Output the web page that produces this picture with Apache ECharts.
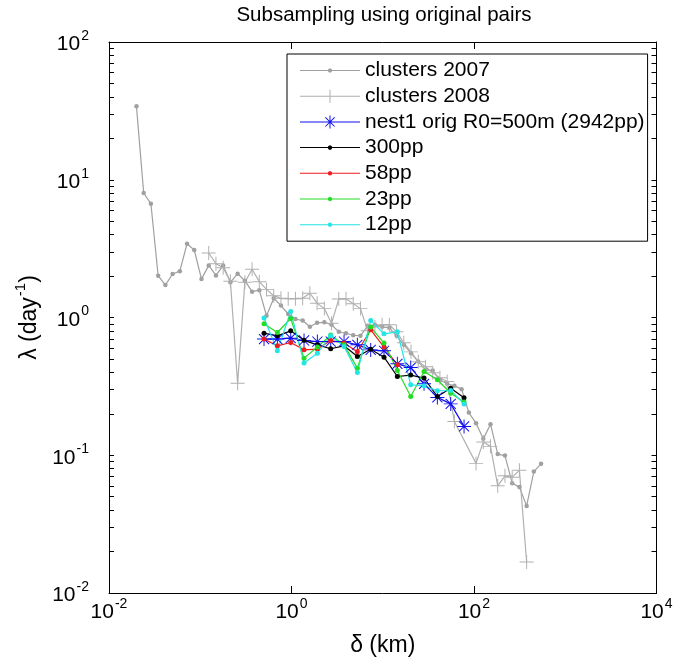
<!DOCTYPE html>
<html><head><meta charset="utf-8">
<script src="https://cdn.jsdelivr.net/npm/echarts@6/dist/echarts.min.js"></script>
<style>html,body{margin:0;padding:0;background:#fff}#c{width:676px;height:668px}</style>
</head><body><div id="c"></div>
<script>
// ---- data ----
const x2007 = [0.02,0.024,0.0288,0.03456,0.04147,0.04977,0.05972,0.07166,0.086,0.1032,0.1238,0.1486,0.1783,0.214,0.2568,0.3081,0.3698,0.4437,0.5325,0.639,0.7668,0.9201,1.104,1.325,1.59,1.908,2.29,2.747,3.297,3.956,4.748,5.697,6.836,8.204,9.845,11.81,14.18,17.01,20.41,24.5,29.4,35.27,42.33,50.8,60.95,73.15,87.77,105.3,126.4,151.7,182,218.4,262.1,314.5,377.4,452.9,543.5];
const y2007 = [34.1,8.01,6.69,2.01,1.72,2.07,2.17,3.43,3.09,1.90,2.39,2.02,2.39,1.80,2.08,1.85,1.54,1.58,1.03,1.38,1.22,1.06,0.974,0.951,0.856,0.915,0.923,0.885,0.788,0.768,0.743,0.736,0.870,0.885,0.856,0.842,0.736,0.633,0.551,0.479,0.417,0.412,0.353,0.330,0.319,0.302,0.204,0.171,0.1315,0.168,0.102,0.0995,0.0627,0.0587,0.0429,0.0761,0.0866];
const x2008 = [0.1238,0.1486,0.1783,0.214,0.2568,0.3081,0.3698,0.4437,0.5325,0.639,0.7668,0.9201,1.104,1.325,1.59,1.908,2.29,2.747,3.297,3.956,4.748,5.697,6.836,8.204,9.845,11.81,14.18,17.01,20.41,24.5,29.4,35.27,42.33,50.8,60.95,105.3,126.4,151.7,182,218.4,262.1,314.5,377.4];
const y2008 = [2.94,2.46,2.30,1.83,0.333,1.80,2.24,1.82,1.60,1.44,1.38,1.37,1.37,1.38,1.50,1.27,1.16,0.908,1.36,1.37,1.26,1.16,0.801,0.856,0.885,0.885,0.788,0.655,0.563,0.477,0.439,0.397,0.365,0.343,0.176,0.0873,0.125,0.116,0.060,0.0709,0.0693,0.0777,0.0168];
const xSub = [0.5,0.7,0.98,1.372,1.921,2.689,3.765,5.271,7.379,10.33,14.46,20.25,28.35,39.69,55.57,77.8];
const yNest = [0.697,0.697,0.708,0.681,0.669,0.669,0.669,0.633,0.582,0.573,0.461,0.433,0.330,0.263,0.236,0.162];
const y300 = [0.770,0.736,0.800,0.683,0.633,0.593,0.623,0.521,0.588,0.515,0.373,0.382,0.363,0.267,0.307,0.261];
const y58 = [0.697,0.623,0.658,0.583,0.590,0.681,0.652,0.564,0.814,0.610,0.453];
const y23 = [0.900,0.778,0.983,0.507,0.610,0.745,0.633,0.429,0.852,0.652,0.412,0.267,0.405,0.353,0.282,0.244];
const y12 = [0.990,0.573,1.105,0.467,0.551,0.736,0.616,0.399,0.951,0.761,0.787,0.325,0.319,0.294,0.295,0.236];
const seriesNames = ['clusters 2007','clusters 2008','nest1 orig R0=500m (2942pp)','300pp','58pp','23pp','12pp'];
const xTickValues = [0.01,1,100,10000];

const FONT = "'Liberation Sans', Arial, Helvetica, sans-serif";
const pairs = (xs, ys) => ys.map((y, i) => [xs[i], y]);

// y minor/major tick positions (decades with 2..9 subdivisions)
const yTicks = [];
for (let k = -2; k <= 1; k++) for (let m = 1; m <= 9; m++) yTicks.push(+(m * Math.pow(10, k)).toPrecision(3));
yTicks.push(100);

// marker shapes
const PLUS = 'path://M-0.07,-1L0.07,-1L0.07,-0.07L1,-0.07L1,0.07L0.07,0.07L0.07,1L-0.07,1L-0.07,0.07L-1,0.07L-1,-0.07L-0.07,-0.07Z';
const STAR = 'path://M-1,-0.07L1,-0.07L1,0.07L-1,0.07Z M0.07,-1L0.07,1L-0.07,1L-0.07,-1Z M-0.67,-0.77L0.77,0.67L0.67,0.77L-0.77,-0.67Z M-0.77,0.67L0.67,-0.77L0.77,-0.67L-0.67,0.77Z';

// legend icons (60 x 14 box)
const SPECK = 'M0,0L0.01,0L0,0.01Z M60,14L59.99,14L60,13.99Z ';
const LINE = 'M0,6.5L60,6.5L60,7.5L0,7.5Z ';
const DOT = 'M32.3,7L31.6,8.6L30,9.3L28.4,8.6L27.7,7L28.4,5.4L30,4.7L31.6,5.4Z ';
const VBAR = 'M30.5,0.5L30.5,13.5L29.5,13.5L29.5,0.5Z ';
const DIAG = 'M25.75,2.05L34.95,11.25L34.25,11.95L25.05,2.75Z M25.05,11.25L34.25,2.05L34.95,2.75L25.75,11.95Z ';
const ICON_DOT = 'path://' + SPECK + LINE + DOT;
const ICON_PLUS = 'path://' + SPECK + LINE + VBAR;
const ICON_STAR = 'path://' + SPECK + LINE + VBAR + DIAG;

const labelFmt = v => {
  const e = Math.round(Math.log10(v));
  return '{b|10}{s|' + e + '}';
};
const rich = {
  b: { fontSize: 21, fontFamily: FONT, color: '#000', verticalAlign: 'bottom', lineHeight: 26 },
  s: { fontSize: 14, fontFamily: FONT, color: '#000', verticalAlign: 'top', lineHeight: 26, padding: [0, 0, 10, 1] }
};

const chart = echarts.init(document.getElementById('c'), null, { renderer: 'canvas' });

function lineSeries(name, data, color, symbol, size, width, z) {
  return {
    name, type: 'line', data, symbol, symbolSize: size, showSymbol: true,
    lineStyle: { color, width }, itemStyle: { color, borderWidth: 0 },
    emphasis: { disabled: true }, animation: false, z: z, silent: true
  };
}

chart.setOption({
  animation: false,
  backgroundColor: '#fff',
  title: {
    text: 'Subsampling using original pairs', left: 379, top: 0, textAlign: 'center',
    textStyle: { fontFamily: FONT, fontSize: 20.5, fontWeight: 'normal', color: '#000' }
  },
  grid: { left: 109, right: 19.5, top: 42, bottom: 75 },
  legend: {
    orient: 'vertical', left: 287, top: 54, padding: [6, 3, 6, 13],
    itemWidth: 60, itemHeight: 14, itemGap: 4.7,
    borderColor: '#000', borderWidth: 1, backgroundColor: '#fff',
    selectedMode: false, itemStyle: { borderWidth: 0 },
    textStyle: { fontFamily: FONT, fontSize: 21, color: '#000', lineHeight: 20 },
    data: [
      { name: seriesNames[0], icon: ICON_DOT },
      { name: seriesNames[1], icon: ICON_PLUS },
      { name: seriesNames[2], icon: ICON_STAR },
      { name: seriesNames[3], icon: ICON_DOT },
      { name: seriesNames[4], icon: ICON_DOT },
      { name: seriesNames[5], icon: ICON_DOT },
      { name: seriesNames[6], icon: ICON_DOT }
    ]
  },
  xAxis: [{
    type: 'log', logBase: 10, min: 0.01, max: 10000, interval: 2,
    name: 'δ (km)', nameLocation: 'middle', nameGap: 41,
    nameTextStyle: { fontFamily: FONT, fontSize: 23, color: '#000' },
    axisLine: { show: true, onZero: false, lineStyle: { color: '#000', width: 1 } },
    axisTick: { show: true, inside: true, length: 7, customValues: xTickValues, lineStyle: { color: '#000' } },
    axisLabel: { show: true, formatter: labelFmt, rich, margin: 4, customValues: xTickValues, showMinLabel: true, showMaxLabel: true },
    splitLine: { show: false }, minorTick: { show: false }
  }, {
    type: 'log', logBase: 10, min: 0.01, max: 10000, interval: 2, position: 'top',
    axisLine: { show: true, onZero: false, lineStyle: { color: '#000', width: 1 } },
    axisTick: { show: true, inside: true, length: 7, customValues: xTickValues, lineStyle: { color: '#000' } },
    axisLabel: { show: false }, splitLine: { show: false }
  }],
  yAxis: [{
    type: 'log', logBase: 10, min: 0.01, max: 100, interval: 1,
    name: '{n|λ (day}{e|-1}{n|)}', nameLocation: 'middle', nameGap: 67, nameRotate: 90,
    nameTextStyle: {
      fontFamily: FONT, color: '#000',
      rich: {
        n: { fontSize: 23, fontFamily: FONT, color: '#000', verticalAlign: 'bottom', lineHeight: 28 },
        e: { fontSize: 15, fontFamily: FONT, color: '#000', verticalAlign: 'top', lineHeight: 28, padding: [0, 0, 10, 1] }
      }
    },
    axisLine: { show: true, onZero: false, lineStyle: { color: '#000', width: 1 } },
    axisTick: { show: true, inside: true, length: 5, customValues: yTicks, lineStyle: { color: '#000' } },
    axisLabel: { show: true, formatter: labelFmt, rich, margin: 20, showMinLabel: true, showMaxLabel: true },
    splitLine: { show: false }
  }, {
    type: 'log', logBase: 10, min: 0.01, max: 100, interval: 1, position: 'right',
    axisLine: { show: true, onZero: false, lineStyle: { color: '#000', width: 1 } },
    axisTick: { show: true, inside: true, length: 5, customValues: yTicks, lineStyle: { color: '#000' } },
    axisLabel: { show: false }, splitLine: { show: false }
  }],
  series: [
    lineSeries(seriesNames[0], pairs(x2007, y2007), '#a0a0a0', 'circle', 4.5, 1.2, 2),
    lineSeries(seriesNames[1], pairs(x2008, y2008), '#b0b0b0', PLUS, 14, 1.2, 2),
    lineSeries(seriesNames[2], pairs(xSub, yNest), '#1010ee', STAR, 14, 1.2, 3),
    lineSeries(seriesNames[3], pairs(xSub, y300), '#000000', 'circle', 5, 1.2, 3),
    lineSeries(seriesNames[4], pairs(xSub, y58), '#ee1c1c', 'circle', 5, 1.2, 3),
    lineSeries(seriesNames[5], pairs(xSub, y23), '#22dd22', 'circle', 5, 1.2, 3),
    lineSeries(seriesNames[6], pairs(xSub, y12), '#22e5e5', 'circle', 5, 1.2, 3)
  ]
});
</script>
</body></html>
